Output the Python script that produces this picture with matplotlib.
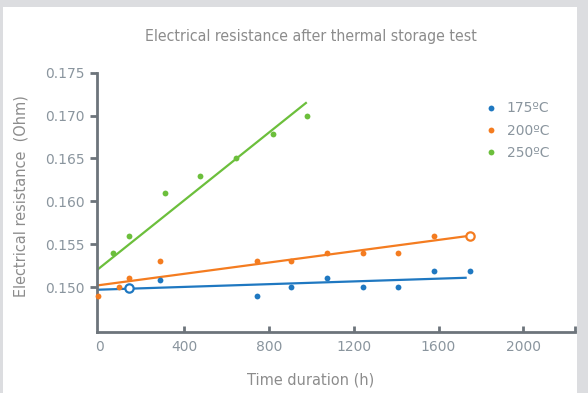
import matplotlib
matplotlib.use("Agg")
import matplotlib.pyplot as plt
from matplotlib.patches import Rectangle
from matplotlib import font_manager
from matplotlib.font_manager import FontProperties

# ---- data ----
series_names = ["175ºC", "200ºC", "250ºC"]
colors = ["#1f78c1", "#f47c20", "#6cbf3c"]

x_175 = [141, 284, 742, 905, 1074, 1245, 1410, 1580, 1749]
y_175 = [0.1499, 0.1508, 0.1490, 0.1500, 0.1511, 0.1500, 0.1500, 0.1519, 0.1519]

x_200 = [-5, 92, 141, 284, 742, 905, 1074, 1245, 1410, 1580, 1749]
y_200 = [0.1490, 0.1500, 0.1511, 0.1530, 0.1530, 0.1530, 0.1540, 0.1540, 0.1540, 0.1560, 0.1560]

x_250 = [62, 139, 308, 474, 643, 819, 981]
y_250 = [0.1540, 0.1560, 0.1610, 0.1630, 0.1650, 0.1679, 0.1700]

trend_x_175 = [-12, 1733]
trend_y_175 = [0.1497, 0.1511]
trend_x_200 = [-12, 1749]
trend_y_200 = [0.1502, 0.1560]
trend_x_250 = [-12, 978]
trend_y_250 = [0.1520, 0.17155]

hollow_175 = (141, 0.1499)
hollow_200 = (1749, 0.1560)

x_ticks = [0, 400, 800, 1200, 1600, 2000]
y_ticks = [0.150, 0.155, 0.160, 0.165, 0.170, 0.175]

title = "Electrical resistance after thermal storage test"
xlabel = "Time duration (h)"
ylabel = "Electrical resistance  (Ohm)"

# ---- fonts: pick the most condensed face available ----
STRETCH = {"ultra-condensed": 100, "extra-condensed": 200, "condensed": 300,
           "semi-condensed": 400, "normal": 500}
best = None
for f in font_manager.fontManager.ttflist:
    st = f.stretch if isinstance(f.stretch, int) else STRETCH.get(str(f.stretch).lower(), 500)
    nm = f.name.lower()
    if "narrow" in nm or "condensed" in nm:
        st = min(st, 300)
    if st >= 500 or f.style != "normal":
        continue
    w = f.weight if isinstance(f.weight, int) else 400
    key = (st, abs(w - 350))
    if best is None or key < best[0]:
        best = (key, f.fname)
if best:
    narrow_fp = FontProperties(fname=best[1])
else:
    narrow_fp = FontProperties(family="DejaVu Sans", stretch="condensed")
tickfont = "DejaVu Sans"

W, H = 588, 393
fig = plt.figure(figsize=(W / 100, H / 100), dpi=100, facecolor="#dcdde0")
bg = Rectangle((3 / W, 0), 574 / W, (H - 7) / H, transform=fig.transFigure,
               facecolor="white", edgecolor="none", zorder=-10)
fig.patches.append(bg)

ax = fig.add_axes([97 / W, 1 - 331.7 / H, (575 - 97) / W, (331.7 - 72.7) / H])
ax.set_facecolor("none")
ax.set_zorder(5)

xs = [x_175, x_200, x_250]
ys = [y_175, y_200, y_250]
txs = [trend_x_175, trend_x_200, trend_x_250]
tys = [trend_y_175, trend_y_200, trend_y_250]

handles = []
for name, c, x, y, tx, ty in zip(series_names, colors, xs, ys, txs, tys):
    ax.plot(tx, ty, color=c, lw=1.6, solid_capstyle="butt", zorder=2)
    h, = ax.plot(x, y, "o", color=c, ms=4.2, mec="none", zorder=3, label=name, clip_on=False)
    handles.append(h)

for (hx, hy), c in [(hollow_175, colors[0]), (hollow_200, colors[1])]:
    ax.plot([hx], [hy], "o", ms=6, mfc="white", mec=c, mew=1.6, zorder=4)

ax.set_xlim(-12, 2244)
ax.set_ylim(0.14481, 0.175)

spine_c = "#6d747b"
for s in ["top", "right"]:
    ax.spines[s].set_visible(False)
for s in ["left", "bottom"]:
    ax.spines[s].set_color(spine_c)
    ax.spines[s].set_linewidth(2)

ax.set_yticks(y_ticks)
ax.set_yticklabels([f"{v:.3f}" for v in y_ticks])
ax.set_xticks(x_ticks + [2244])
ax.set_xticklabels([str(v) for v in x_ticks] + [""])

lab_c = "#8a959e"
ax.tick_params(axis="y", direction="out", length=5, width=2, color=spine_c,
               labelcolor=lab_c, labelsize=10, pad=4)
ax.tick_params(axis="x", direction="in", length=4, width=2, color=spine_c,
               labelcolor=lab_c, labelsize=10, pad=6)
for lab in ax.get_xticklabels() + ax.get_yticklabels():
    lab.set_family(tickfont)
ax.xaxis.get_major_ticks()[0].tick1line.set_visible(False)

def ctext(x, y, s, size=11.3, **kw):
    fp = narrow_fp.copy()
    fp.set_size(size)
    fig.text(x / W, 1 - y / H, s, ha="center", va="center", color="#8c8c8c",
             fontproperties=fp, **kw)

ctext(311, 36, title)
ctext(311, 380, xlabel, size=11.6)
ctext(21, 196, ylabel, size=11.6, rotation=90)

leg = ax.legend(handles=handles, loc="upper left", bbox_to_anchor=(474 / W, 1 - 89 / H),
                bbox_transform=fig.transFigure, frameon=False, handlelength=0.6,
                handletextpad=0.85, labelspacing=0.6,
                prop={"family": tickfont, "size": 10})
for t in leg.get_texts():
    t.set_color(lab_c)

fig.savefig("out.png", dpi=100, facecolor=fig.get_facecolor())
